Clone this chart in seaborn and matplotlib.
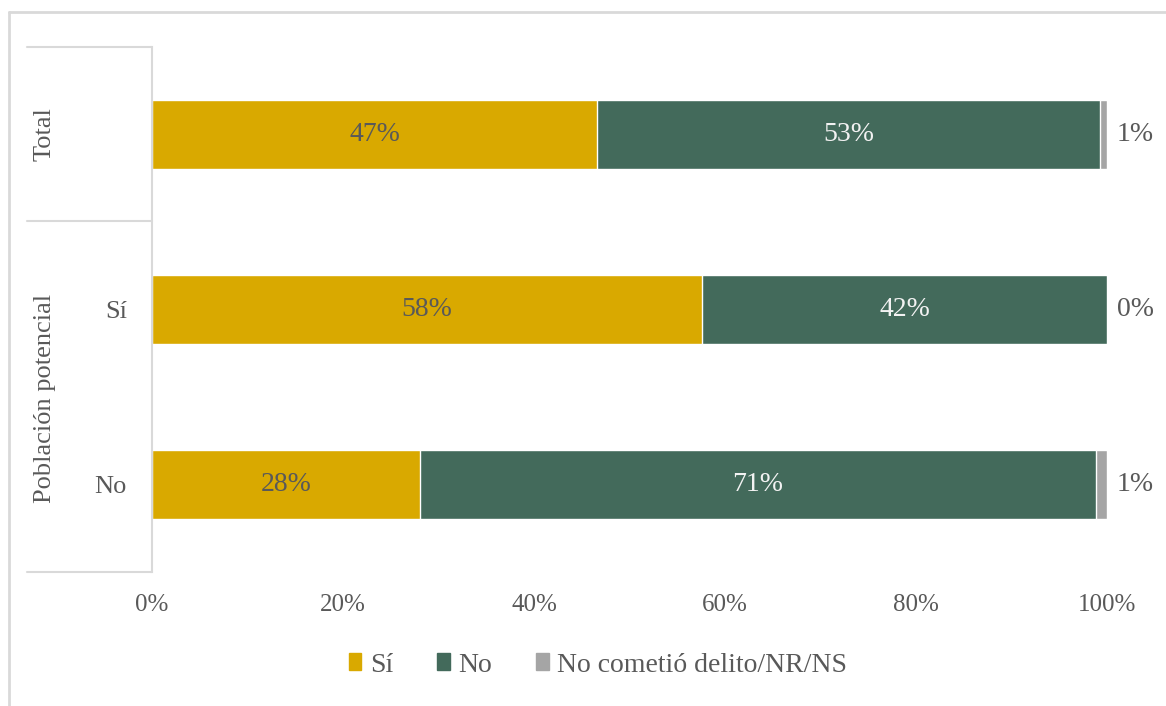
import seaborn as sns
import matplotlib.pyplot as plt
import matplotlib.lines as mlines
import matplotlib.patches as mpatches
import pandas as pd

# rows of the chart (first is the total, the other two are "Población potencial")
rows = ['Total', 'Sí', 'No']
row_ticks = ['', 'Sí', 'No']

# shares in %
si = [46.6, 57.6, 28.1]
no = [52.7, 42.4, 70.7]
nr = [0.7, 0.0, 1.2]

series = ['Sí', 'No', 'No cometió delito/NR/NS']
colors = ['#D9A900', '#436A5B', '#A5A5A5']
text_gray = '#595959'

df = pd.DataFrame({'row': rows, 'si': si, 'no': no, 'nr': nr})
df['cum_si'] = df['si']
df['cum_no'] = df['si'] + df['no']
df['cum_nr'] = df['si'] + df['no'] + df['nr']

sns.set_style('white')
plt.rcParams['font.family'] = ['Liberation Serif', 'DejaVu Serif']

fig = plt.figure(figsize=(11.66, 7.06), dpi=100)
ax = fig.add_axes([152 / 1166, 134 / 706, 955 / 1166, 525 / 706])

# stacked bars: draw cumulative totals from the back to the front
for col, c in zip(['cum_nr', 'cum_no', 'cum_si'], colors[::-1]):
    sns.barplot(data=df, x=col, y='row', orient='h', color=c, width=0.39,
                saturation=1, ax=ax)

# data labels
for i in range(len(rows)):
    ax.text(si[i] / 2, i, f'{si[i]:.0f}%', ha='center', va='center',
            fontsize=20, color=text_gray)
    ax.text(si[i] + no[i] / 2, i, f'{no[i]:.0f}%', ha='center', va='center',
            fontsize=20, color='#F2F2F2')
    ax.text(101, i, f'{nr[i]:.0f}%', ha='left', va='center',
            fontsize=20, color=text_gray, clip_on=False)

ax.set_xlim(0, 100)
ax.set_ylim(2.5, -0.5)
ax.set_xticks(range(0, 101, 20))
ax.set_xticklabels([f'{v}%' for v in range(0, 101, 20)])
ax.set_yticks(range(len(rows)))
ax.set_yticklabels(row_ticks)
ax.set_xlabel('')
ax.set_ylabel('')
ax.tick_params(axis='x', length=0, pad=16, labelsize=18, labelcolor=text_gray)
ax.tick_params(axis='y', length=0, pad=18, labelsize=19, labelcolor=text_gray)

for s in ['top', 'right', 'bottom']:
    ax.spines[s].set_visible(False)
ax.spines['left'].set_color('#D9D9D9')
ax.spines['left'].set_linewidth(1.5)

# group separators on the left
x0 = (27 - 152) / 955
for yy in [1.0, (572 - 221) / 525, 0.0]:
    ax.add_line(mlines.Line2D([x0, 0], [yy, yy], transform=ax.transAxes,
                              color='#D9D9D9', lw=1.5, clip_on=False))

fig.text(45 / 1166, 1 - 134 / 706, 'Total', rotation=90, ha='center',
         va='center', fontsize=19, color=text_gray)
fig.text(45 / 1166, 1 - 398 / 706, 'Población potencial', rotation=90,
         ha='center', va='center', fontsize=19, color=text_gray)

# figure frame (top and left edges)
fig.add_artist(mlines.Line2D([9 / 1166, 1], [1 - 12 / 706, 1 - 12 / 706],
                             transform=fig.transFigure, color='#D9D9D9', lw=2))
fig.add_artist(mlines.Line2D([9 / 1166, 9 / 1166], [0, 1 - 12 / 706],
                             transform=fig.transFigure, color='#D9D9D9', lw=2))

handles = [mpatches.Patch(color=c, label=s) for c, s in zip(colors, series)]
fig.legend(handles=handles, loc='center', bbox_to_anchor=(598 / 1166, 1 - 665 / 706),
           ncol=3, frameon=False, fontsize=20, handlelength=0.45, handleheight=0.55,
           handletextpad=0.3, columnspacing=1.6, labelcolor=text_gray)

fig.savefig('out.png', dpi=100)
